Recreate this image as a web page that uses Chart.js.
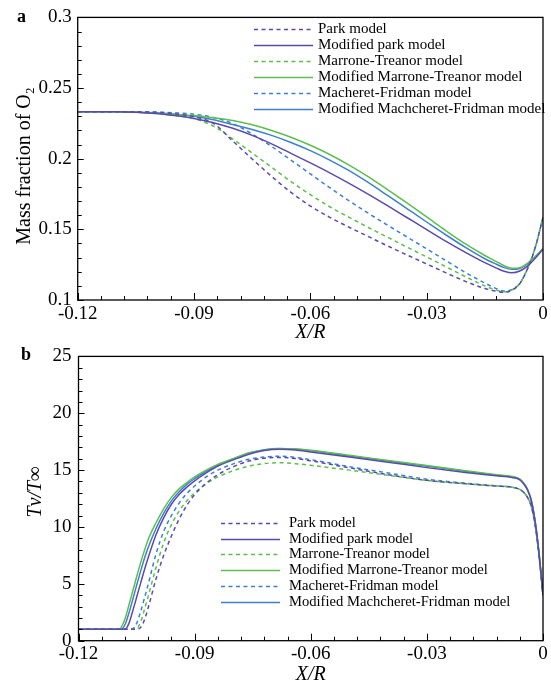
<!DOCTYPE html>
<html>
<head>
<meta charset="utf-8">
<script src="https://cdn.jsdelivr.net/npm/chart.js@4.4.1/dist/chart.umd.min.js"></script>
<style>
  html, body { margin: 0; padding: 0; background: #fff; overflow: hidden; }
  .panel { position: absolute; left: 0; width: 551px; }
  #panelA { top: 0; height: 350px; }
  #panelB { top: 338px; height: 352px; }
</style>
</head>
<body>
<div class="panel" id="panelA"><canvas id="chartA" width="551" height="350"></canvas></div>
<div class="panel" id="panelB"><canvas id="chartB" width="551" height="352"></canvas></div>
<script>
// ---- data ----
var modelNames = [
  'Park model',
  'Modified park model',
  'Marrone-Treanor model',
  'Modified Marrone-Treanor model',
  'Macheret-Fridman model',
  'Modified Machcheret-Fridman model'
];

var xTicks = [-0.12, -0.09, -0.06, -0.03, 0];
var xTickLabels = ['-0.12', '-0.09', '-0.06', '-0.03', '0'];

// (a) mass fraction of O2 along the stagnation line
var xsA = [-0.12, -0.11, -0.10, -0.095, -0.09, -0.085, -0.08, -0.075, -0.07, -0.065, -0.06, -0.055, -0.05,
  -0.045, -0.04, -0.035, -0.03, -0.025, -0.02, -0.015, -0.012, -0.01, -0.008, -0.006, -0.004, -0.002, 0];
var parkA = [0.2333, 0.2333, 0.2328, 0.2318, 0.2297, 0.2250, 0.2125, 0.1998, 0.1875, 0.1762, 0.1665, 0.1585, 0.1515,
  0.1448, 0.1382, 0.1318, 0.1255, 0.1192, 0.1132, 0.1082, 0.1062, 0.1054, 0.1070, 0.1115, 0.1220, 0.1370, 0.1585];
var modParkA = [0.2333, 0.2332, 0.2320, 0.2305, 0.2285, 0.2255, 0.2215, 0.2165, 0.2105, 0.2038, 0.1970, 0.1900, 0.1826,
  0.1748, 0.1666, 0.1582, 0.1498, 0.1415, 0.1337, 0.1264, 0.1226, 0.1203, 0.1192, 0.1205, 0.1240, 0.1295, 0.1360];
var mtA = [0.2333, 0.2333, 0.2323, 0.2306, 0.2283, 0.2230, 0.2140, 0.2040, 0.1940, 0.1838, 0.1745, 0.1660, 0.1585,
  0.1513, 0.1443, 0.1373, 0.1305, 0.1235, 0.1165, 0.1100, 0.1070, 0.1058, 0.1072, 0.1117, 0.1222, 0.1373, 0.1585];
var modMtA = [0.2333, 0.2333, 0.2322, 0.2314, 0.2305, 0.2290, 0.2270, 0.2240, 0.2200, 0.2152, 0.2095, 0.2030, 0.1955,
  0.1872, 0.1780, 0.1685, 0.1588, 0.1490, 0.1397, 0.1315, 0.1272, 0.1242, 0.1225, 0.1229, 0.1260, 0.1308, 0.1365];
var mfA = [0.2333, 0.2333, 0.2330, 0.2325, 0.2315, 0.2292, 0.2248, 0.2175, 0.2087, 0.1990, 0.1892, 0.1795, 0.1702,
  0.1613, 0.1528, 0.1445, 0.1362, 0.1278, 0.1195, 0.1120, 0.1080, 0.1063, 0.1075, 0.1117, 0.1222, 0.1373, 0.1585];
var modMfA = [0.2333, 0.2332, 0.2325, 0.2315, 0.2300, 0.2275, 0.2242, 0.2207, 0.2165, 0.2115, 0.2057, 0.1990, 0.1915,
  0.1830, 0.1738, 0.1645, 0.1552, 0.1460, 0.1372, 0.1292, 0.1253, 0.1229, 0.1217, 0.1223, 0.1256, 0.1306, 0.1362];
var yTicksA = [0.1, 0.15, 0.2, 0.25, 0.3];
var yTickLabelsA = ['0.1', '0.15', '0.2', '0.25', '0.3'];

// (b) vibrational temperature Tv/T_inf
var xsB = [-0.12, -0.115, -0.111, -0.1095, -0.109, -0.108, -0.107, -0.106, -0.105, -0.104, -0.103, -0.102, -0.1,
  -0.098, -0.096, -0.094, -0.092, -0.09, -0.087, -0.084, -0.08, -0.076, -0.072, -0.068, -0.064, -0.06, -0.05,
  -0.04, -0.03, -0.02, -0.012, -0.008, -0.006, -0.005, -0.004, -0.003, -0.002, -0.001, 0];
var parkB = [1, 1, 1, 1, 1, 1, 1, 1, 1, 1.15, 1.8, 2.9, 5.4,
  7.5, 9.2, 10.7, 11.9, 12.85, 13.85, 14.6, 15.3, 15.8, 16.05, 16.12, 16.02, 15.82, 15.2,
  14.6, 14.1, 13.8, 13.6, 13.5, 13.3, 13.05, 12.6, 11.8, 10.1, 7.4, 4.0];
var modParkB = [1, 1, 1, 1, 1, 1.0, 1.5, 2.6, 3.8, 5.0, 6.2, 7.3, 9.3,
  10.8, 12.0, 12.85, 13.5, 14.05, 14.75, 15.35, 15.9, 16.4, 16.72, 16.83, 16.78, 16.6, 16.15,
  15.7, 15.22, 14.8, 14.5, 14.35, 14.15, 13.8, 13.25, 12.3, 10.4, 7.6, 4.0];
var mtB = [1, 1, 1, 1, 1, 1, 1, 1, 1.05, 1.6, 2.7, 3.9, 6.4,
  8.6, 10.2, 11.4, 12.3, 13.0, 13.8, 14.4, 14.95, 15.35, 15.58, 15.65, 15.57, 15.42, 15.0,
  14.55, 14.1, 13.8, 13.6, 13.5, 13.3, 13.05, 12.6, 11.8, 10.1, 7.4, 4.0];
var modMtB = [1, 1, 1, 1.0, 1.15, 1.9, 3.1, 4.35, 5.6, 6.8, 7.9, 8.9, 10.35,
  11.6, 12.6, 13.35, 13.9, 14.4, 15.0, 15.5, 16.0, 16.5, 16.78, 16.88, 16.85, 16.75, 16.3,
  15.85, 15.4, 14.95, 14.6, 14.45, 14.2, 13.85, 13.3, 12.3, 10.4, 7.6, 4.0];
var mfB = [1, 1, 1, 1, 1, 1, 1, 1.05, 1.5, 2.5, 3.7, 4.95, 7.6,
  9.6, 11.0, 12.1, 12.95, 13.6, 14.4, 15.0, 15.55, 15.95, 16.15, 16.22, 16.12, 15.92, 15.3,
  14.75, 14.2, 13.85, 13.62, 13.5, 13.3, 13.05, 12.6, 11.8, 10.1, 7.4, 4.0];
var modMfB = [1, 1, 1, 1, 1.0, 1.4, 2.4, 3.6, 4.85, 6.05, 7.2, 8.2, 9.85,
  11.2, 12.3, 13.1, 13.75, 14.25, 14.9, 15.45, 16.0, 16.5, 16.8, 16.9, 16.85, 16.7, 16.25,
  15.8, 15.35, 14.9, 14.55, 14.4, 14.2, 13.85, 13.3, 12.3, 10.4, 7.6, 4.0];
var yTicksB = [0, 5, 10, 15, 20, 25];
var yTickLabelsB = ['0', '5', '10', '15', '20', '25'];

// ---- styles ----
var SERIF = '"Liberation Serif", "Times New Roman", serif';
var lineColors = ['#5a4ab0', '#5a4ab0', '#5cbf4c', '#5cbf4c', '#3d80cf', '#3d80cf'];
var lineDashed = [true, false, true, false, true, false];

function makeDatasets(xs, lists) {
  return lists.map(function (vals, i) {
    return {
      label: modelNames[i],
      data: vals.map(function (v, j) { return { x: xs[j], y: v }; }),
      borderColor: lineColors[i],
      backgroundColor: lineColors[i],
      borderDash: lineDashed[i] ? [4, 3.5] : [],
      borderWidth: 1.5,
      pointRadius: 0,
      cubicInterpolationMode: 'monotone',
      fill: false
    };
  });
}

// frame, inward ticks, panel letter, y title and legend
var decor = {
  id: 'decor',
  afterDatasetsDraw: function (chart, args, o) {
    var ctx = chart.ctx, a = chart.chartArea;
    var x = chart.scales.x, y = chart.scales.y;
    ctx.save();
    ctx.strokeStyle = '#000';
    ctx.lineWidth = 1.3;
    ctx.strokeRect(a.left, a.top, a.right - a.left, a.bottom - a.top);

    ctx.lineWidth = 1;
    ctx.beginPath();
    var n = Math.round((x.max - x.min) / o.xMinor);
    for (var i = 0; i <= n; i++) {
      var px = Math.round(x.getPixelForValue(x.min + i * o.xMinor)) + 0.5;
      var len = (i % o.xPer === 0) ? 7 : 4;
      ctx.moveTo(px, a.bottom);
      ctx.lineTo(px, a.bottom - len);
    }
    n = Math.round((y.max - y.min) / o.yMinor);
    for (i = 0; i <= n; i++) {
      var py = Math.round(y.getPixelForValue(y.min + i * o.yMinor)) + 0.5;
      len = (i % o.yPer === 0) ? 6 : 4;
      ctx.moveTo(a.left, py);
      ctx.lineTo(a.left + len, py);
    }
    ctx.stroke();

    ctx.fillStyle = '#000';
    ctx.textBaseline = 'middle';
    ctx.textAlign = 'left';
    ctx.font = 'bold 18px ' + SERIF;
    ctx.fillText(o.letter, o.letterX, o.letterY);

    ctx.save();
    ctx.translate(o.yTitleX, o.yTitleY);
    ctx.rotate(-Math.PI / 2);
    ctx.textAlign = 'center';
    ctx.font = (o.yTitleItalic ? 'italic ' : '') + '20px ' + SERIF;
    ctx.fillText(o.yTitle, 0, 0);
    ctx.restore();

    var lg = o.legend;
    ctx.font = lg.size + 'px ' + SERIF;
    chart.data.datasets.forEach(function (ds, k) {
      var ly = Math.round(lg.top + k * lg.step) + 0.5;
      ctx.strokeStyle = ds.borderColor;
      ctx.lineWidth = 1.5;
      ctx.setLineDash(ds.borderDash);
      ctx.beginPath();
      ctx.moveTo(lg.x0, ly);
      ctx.lineTo(lg.x1, ly);
      ctx.stroke();
      ctx.setLineDash([]);
      ctx.fillText(ds.label, lg.textX, ly);
    });
    ctx.restore();
  }
};

function makeOptions(cfg) {
  return {
    responsive: false,
    animation: false,
    layout: { padding: { left: 0, right: 8, top: cfg.padTop, bottom: 0 } },
    plugins: {
      legend: { display: false },
      tooltip: { enabled: false },
      decor: cfg.decor
    },
    scales: {
      x: {
        type: 'linear', min: -0.12, max: 0,
        afterBuildTicks: function (s) { s.ticks = xTicks.map(function (v) { return { value: v }; }); },
        afterFit: function (s) { s.height = cfg.xHeight; },
        grid: { display: false, drawTicks: false },
        border: { display: false },
        ticks: {
          color: '#000', padding: cfg.xPad, maxRotation: 0, autoSkip: false,
          font: { family: SERIF, size: 19 },
          callback: function (v, i) { return xTickLabels[i]; }
        },
        title: {
          display: true, text: 'X/R', color: '#000',
          font: { family: SERIF, size: 20, style: 'italic', lineHeight: 1 },
          padding: { top: 0, bottom: cfg.xTitlePad }
        }
      },
      y: {
        type: 'linear', min: cfg.yTicks[0], max: cfg.yTicks[cfg.yTicks.length - 1],
        afterBuildTicks: function (s) { s.ticks = cfg.yTicks.map(function (v) { return { value: v }; }); },
        afterFit: function (s) { s.width = cfg.yWidth; },
        grid: { display: false, drawTicks: false },
        border: { display: false },
        ticks: {
          color: '#000', padding: cfg.yPad, autoSkip: false,
          font: { family: SERIF, size: 19 },
          callback: function (v, i) { return cfg.yLabels[i]; }
        }
      }
    }
  };
}

new Chart(document.getElementById('chartA'), {
  type: 'line',
  data: { datasets: makeDatasets(xsA, [parkA, modParkA, mtA, modMtA, mfA, modMfA]) },
  options: makeOptions({
    padTop: 14, xHeight: 50, xPad: 3, xTitlePad: 7, yWidth: 77.7, yPad: 6,
    yTicks: yTicksA, yLabels: yTickLabelsA,
    decor: {
      xMinor: 0.006, xPer: 5, yMinor: 0.01, yPer: 5,
      letter: 'a', letterX: 17, letterY: 17.5,
      yTitle: 'Mass fraction of O\u2082', yTitleItalic: false, yTitleX: 25, yTitleY: 166,
      legend: { x0: 254, x1: 313, textX: 318, top: 29, step: 15.9, size: 15 }
    }
  }),
  plugins: [decor]
});

new Chart(document.getElementById('chartB'), {
  type: 'line',
  data: { datasets: makeDatasets(xsB, [parkB, modParkB, mtB, modMtB, mfB, modMfB]) },
  options: makeOptions({
    padTop: 14.7, xHeight: 49.3, xPad: 2, xTitlePad: 5, yWidth: 78.5, yPad: 7,
    yTicks: yTicksB, yLabels: yTickLabelsB,
    decor: {
      xMinor: 0.006, xPer: 5, yMinor: 1, yPer: 5,
      letter: 'b', letterX: 21, letterY: 17.5,
      yTitle: 'Tv/T\u221e', yTitleItalic: true, yTitleX: 36, yTitleY: 154,
      legend: { x0: 221, x1: 280, textX: 289, top: 184.8, step: 15.8, size: 14.6 }
    }
  }),
  plugins: [decor]
});
</script>
</body>
</html>
